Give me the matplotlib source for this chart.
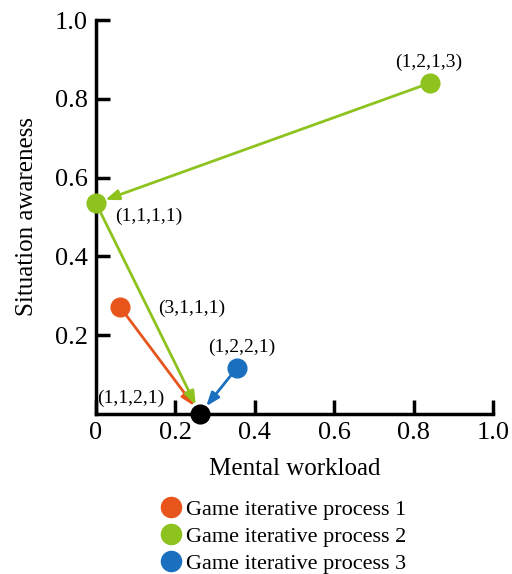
import matplotlib.pyplot as plt
from matplotlib.lines import Line2D

plt.rcParams['font.family'] = ['Liberation Serif', 'DejaVu Serif']

# mental workload (x) and situation awareness (y) along each game iterative process
p1_x = [0.06, 0.262]
p1_y = [0.272, 0.0]
p2_x = [0.84, 0.0, 0.262]
p2_y = [0.84, 0.535, 0.0]
p3_x = [0.354, 0.262]
p3_y = [0.116, 0.0]

names = ['Game iterative process 1', 'Game iterative process 2', 'Game iterative process 3']
colors = ['#E8551C', '#8DC21F', '#1A70BE']

x_ticks = [0, 0.2, 0.4, 0.6, 0.8, 1.0]
x_ticklabels = ['0', '0.2', '0.4', '0.6', '0.8', '1.0']
y_ticks = [0.2, 0.4, 0.6, 0.8, 1.0]
y_ticklabels = ['0.2', '0.4', '0.6', '0.8', '1.0']

fig = plt.figure(figsize=(5.12, 5.74), dpi=100)
ax = fig.add_axes([0.1875, 0.279, 0.776, 0.686])


def arrows(xs, ys, color):
    for i in range(len(xs) - 1):
        ax.annotate('', xy=(xs[i + 1], ys[i + 1]), xytext=(xs[i], ys[i]),
                    arrowprops=dict(arrowstyle='-|>,head_length=0.8,head_width=0.3',
                                    color=color, lw=2, shrinkA=6, shrinkB=7),
                    annotation_clip=False)


for xs, ys, c in zip([p1_x, p2_x, p3_x], [p1_y, p2_y, p3_y], colors):
    arrows(xs, ys, c)
    ax.plot(xs[:-1], ys[:-1], 'o', color=c, ms=13.5, clip_on=False, zorder=5)

# common end state
ax.plot(p1_x[-1], p1_y[-1], 'o', color='black', ms=13.5, clip_on=False, zorder=6)

lab = dict(fontsize=14, zorder=7)
ax.annotate('(1,2,1,3)', (p2_x[0], p2_y[0]), xytext=(-1, 9), textcoords='offset points',
            ha='center', va='bottom', **lab)
ax.annotate('(1,1,1,1)', (p2_x[1], p2_y[1]), xytext=(14, -3), textcoords='offset points',
            ha='left', va='top', **lab)
ax.annotate('(3,1,1,1)', ((p2_x[1] + p2_x[2]) / 2, (p2_y[1] + p2_y[2]) / 2),
            xytext=(7, 0), textcoords='offset points', ha='left', va='center', **lab)
ax.annotate('(1,2,2,1)', (p3_x[0], p3_y[0]), xytext=(4, 9), textcoords='offset points',
            ha='center', va='bottom', **lab)
ax.annotate('(1,1,2,1)', (p1_x[-1], p1_y[-1]), xytext=(-50, 11), textcoords='offset points',
            ha='center', va='center', **lab)

ax.set_xlim(0, 1)
ax.set_ylim(0, 1)
ax.set_xticks(x_ticks, x_ticklabels)
ax.set_yticks(y_ticks, y_ticklabels)
ax.tick_params(direction='in', length=10, width=2.5, labelsize=19, pad=6)
for s in ['top', 'right']:
    ax.spines[s].set_visible(False)
for s in ['left', 'bottom']:
    ax.spines[s].set_linewidth(2.5)

ax.set_xlabel('Mental workload', fontsize=18, labelpad=10)
ax.set_ylabel('Situation awareness', fontsize=18, labelpad=12)

handles = [Line2D([], [], ls='', marker='o', ms=14.5, color=c) for c in colors]
fig.legend(handles, names, loc='upper left', bbox_to_anchor=(0.29, 0.146), frameon=False,
           fontsize=16, handletextpad=0.1, labelspacing=0.3, borderaxespad=0,
           handlelength=1.2)

fig.savefig('out.png', dpi=100)
